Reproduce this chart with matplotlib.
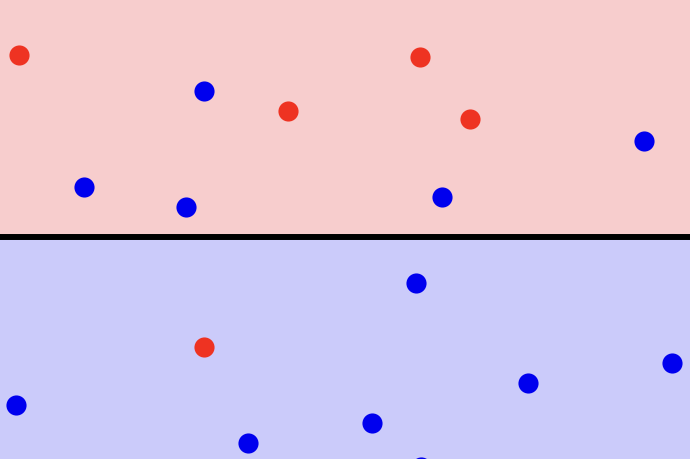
import matplotlib
matplotlib.use("Agg")
import matplotlib.pyplot as plt

# point positions, in picture coordinates (x right, y down)
red_x = [19, 420, 288, 470, 204]
red_y = [56, 58, 112, 120, 348]
blue_x = [204, 84, 186, 442, 644, 416, 672, 528, 16, 248, 372, 421]
blue_y = [92, 188, 208, 198, 142, 284, 364, 384, 406, 444, 424, 468]

split_y = 238
width, height = 690, 460

fig = plt.figure(figsize=(6.9, 4.6), dpi=100)
ax = fig.add_axes([0, 0, 1, 1])
ax.set_xlim(0, width)
ax.set_ylim(height, 0)
ax.axis("off")

ax.axhspan(0, split_y, color="#f7cdcd", zorder=0)
ax.axhspan(split_y, height, color="#cbcbfa", zorder=0)
ax.axhline(split_y, color="black", linewidth=4.3, zorder=1)

ax.scatter(red_x, red_y, s=210, color="#ee3322", linewidths=0, zorder=2)
ax.scatter(blue_x, blue_y, s=210, color="#0000ee", linewidths=0, zorder=2)

fig.savefig("out.png", dpi=100)
